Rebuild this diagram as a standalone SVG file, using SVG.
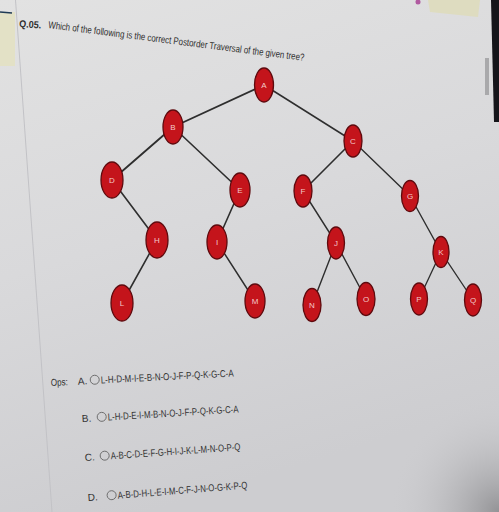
<svg xmlns="http://www.w3.org/2000/svg" width="499" height="512" viewBox="0 0 499 512">
<defs>
<linearGradient id="bg" x1="0" y1="0" x2="0.3" y2="1">
<stop offset="0" stop-color="#e2e2e2"/>
<stop offset="0.5" stop-color="#d9d9db"/>
<stop offset="1" stop-color="#cdcdd0"/>
</linearGradient>
<radialGradient id="br" cx="1" cy="1" r="0.22">
<stop offset="0" stop-color="#939396"/>
<stop offset="1" stop-color="#cdcdd0" stop-opacity="0"/>
</radialGradient>
<style>
.n ellipse{fill:#c4141b;stroke:#5e0a0e;stroke-width:1.3}
.n text{font-family:"Liberation Sans Narrow","Liberation Sans",sans-serif;font-size:8px;fill:#f3c9c9;text-anchor:middle;dominant-baseline:central}
.e line{stroke:#2e2e2e;stroke-width:1.8;stroke-linecap:round}
.t{font-family:"Liberation Sans Narrow","Liberation Sans",sans-serif;fill:#2e2e2e;font-size:10px}
.o{font-family:"Liberation Sans Narrow","Liberation Sans",sans-serif;fill:#303030;font-size:10px}
.r{fill:none;stroke:#666;stroke-width:0.9}
</style>
</defs>
<rect width="499" height="512" fill="url(#bg)"/>
<rect width="499" height="512" fill="url(#br)"/>
<rect x="0" y="12" width="15" height="54" fill="#e3e1c6"/>
<line x1="0" y1="12" x2="12" y2="13" stroke="#1f3a55" stroke-width="1.5"/>
<line x1="15.5" y1="0" x2="52" y2="512" stroke="#c2c2c6" stroke-width="1"/>
<polygon points="428,0 480,0 478,17 430,12" fill="#dedcc0"/>
<circle cx="418" cy="2" r="2.5" fill="#b05aa0"/>
<polygon points="491,0 499,0 499,122 494,122" fill="#15151a"/>
<rect x="485" y="58" width="4" height="37" fill="#a9a9ab"/>
<g class="e" id="connectors">
<line x1="264" y1="85" x2="173" y2="127"/>
<line x1="264" y1="85" x2="353" y2="141" style="stroke-width:1.5"/>
<line x1="173" y1="127" x2="112" y2="180"/>
<line x1="173" y1="127" x2="240" y2="190" style="stroke-width:1.6"/>
<line x1="353" y1="141" x2="303" y2="191" style="stroke-width:1.6"/>
<line x1="353" y1="141" x2="410" y2="196" style="stroke-width:1.4"/>
<line x1="112" y1="180" x2="157" y2="240" style="stroke-width:1.6"/>
<line x1="240" y1="190" x2="217" y2="242" style="stroke-width:1.6"/>
<line x1="303" y1="191" x2="336" y2="243" style="stroke-width:1.4"/>
<line x1="410" y1="196" x2="441" y2="252" style="stroke-width:1.4"/>
<line x1="157" y1="240" x2="122" y2="303" style="stroke-width:1.6"/>
<line x1="217" y1="242" x2="255" y2="301" style="stroke-width:1.5"/>
<line x1="336" y1="243" x2="312" y2="305" style="stroke-width:1.4"/>
<line x1="336" y1="243" x2="366" y2="299" style="stroke-width:1.4"/>
<line x1="441" y1="252" x2="419" y2="299" style="stroke-width:1.3"/>
<line x1="441" y1="252" x2="473" y2="300" style="stroke-width:1.3"/>
</g>
<g class="n" id="nA"><ellipse cx="264" cy="85" rx="9.5" ry="17"/><text x="264" y="85">A</text></g>
<g class="n" id="nB"><ellipse cx="173" cy="127" rx="10" ry="17"/><text x="173" y="127">B</text></g>
<g class="n" id="nC"><ellipse cx="353" cy="141" rx="9" ry="16"/><text x="353" y="141">C</text></g>
<g class="n" id="nD"><ellipse cx="112" cy="180" rx="11" ry="18"/><text x="112" y="180">D</text></g>
<g class="n" id="nE"><ellipse cx="240" cy="190" rx="10" ry="17"/><text x="240" y="190">E</text></g>
<g class="n" id="nF"><ellipse cx="303" cy="191" rx="9" ry="16"/><text x="303" y="191">F</text></g>
<g class="n" id="nG"><ellipse cx="410" cy="196" rx="8.5" ry="15.5"/><text x="410" y="196">G</text></g>
<g class="n" id="nH"><ellipse cx="157" cy="240" rx="11" ry="18"/><text x="157" y="240">H</text></g>
<g class="n" id="nI"><ellipse cx="217" cy="242" rx="10" ry="17"/><text x="217" y="242">I</text></g>
<g class="n" id="nJ"><ellipse cx="336" cy="243" rx="8.5" ry="16"/><text x="336" y="243">J</text></g>
<g class="n" id="nK"><ellipse cx="441" cy="252" rx="8" ry="15.5"/><text x="441" y="252">K</text></g>
<g class="n" id="nL"><ellipse cx="122" cy="303" rx="11" ry="18"/><text x="122" y="303">L</text></g>
<g class="n" id="nM"><ellipse cx="255" cy="301" rx="10" ry="17"/><text x="255" y="301">M</text></g>
<g class="n" id="nN"><ellipse cx="312" cy="305" rx="9" ry="16.5"/><text x="312" y="305">N</text></g>
<g class="n" id="nO"><ellipse cx="366" cy="299" rx="9" ry="16.5"/><text x="366" y="299">O</text></g>
<g class="n" id="nP"><ellipse cx="419" cy="299" rx="8.5" ry="16"/><text x="419" y="299">P</text></g>
<g class="n" id="nQ"><ellipse cx="473" cy="300" rx="8.5" ry="16"/><text x="473" y="300">Q</text></g>
<text class="t" x="19" y="27" font-weight="bold" font-size="10" transform="rotate(4 19 27)" textLength="22" lengthAdjust="spacingAndGlyphs">Q.05.</text>
<text class="t" x="48" y="28" transform="rotate(7.3 48 28)" textLength="258" lengthAdjust="spacingAndGlyphs">Which of the following is the correct Postorder Traversal of the given tree?</text>
<g transform="rotate(-3 52 386)">
<text class="o" x="51" y="386" textLength="17" lengthAdjust="spacingAndGlyphs">Ops:</text>
<text class="o" x="78" y="386">A.</text>
<circle class="r" cx="95" cy="382" r="4.5"/>
<text class="o" x="101" y="386" textLength="133" lengthAdjust="spacingAndGlyphs">L-H-D-M-I-E-B-N-O-J-F-P-Q-K-G-C-A</text>
</g>
<g transform="rotate(-3.5 83 422)">
<text class="o" x="82" y="422">B.</text>
<circle class="r" cx="102" cy="418" r="4.5"/>
<text class="o" x="108" y="422" textLength="131" lengthAdjust="spacingAndGlyphs">L-H-D-E-I-M-B-N-O-J-F-P-Q-K-G-C-A</text>
</g>
<g transform="rotate(-4 86 461)">
<text class="o" x="85" y="461">C.</text>
<circle class="r" cx="105" cy="457" r="4.5"/>
<text class="o" x="111" y="461" textLength="130" lengthAdjust="spacingAndGlyphs">A-B-C-D-E-F-G-H-I-J-K-L-M-N-O-P-Q</text>
</g>
<g transform="rotate(-4.5 89 501)">
<text class="o" x="88" y="501">D.</text>
<circle class="r" cx="112" cy="497" r="4.5"/>
<text class="o" x="118" y="501" textLength="130" lengthAdjust="spacingAndGlyphs">A-B-D-H-L-E-I-M-C-F-J-N-O-G-K-P-Q</text>
</g>
</svg>
